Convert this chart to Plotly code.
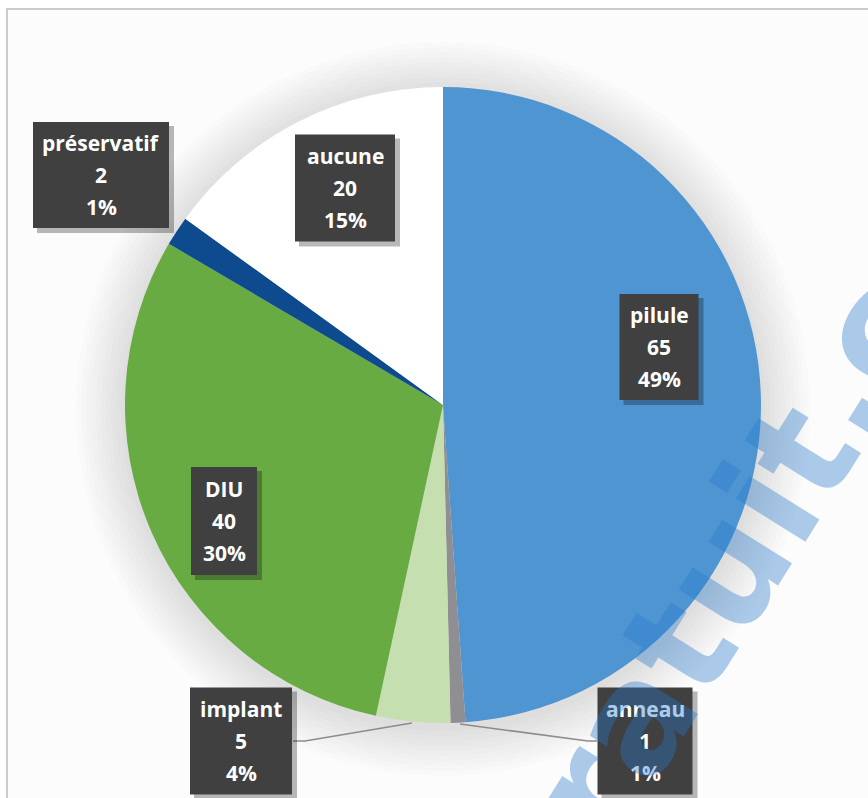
import plotly.graph_objects as go

W, H = 868, 798

# data
labels = ['pilule', 'anneau', 'implant', 'DIU', 'préservatif', 'aucune']
values = [65, 1, 5, 40, 2, 20]
pct_text = ['49%', '1%', '4%', '30%', '1%', '15%']
colors = ['#4f95d1', '#8f8f93', '#c5dfb1', '#69ab43', '#0e4b8e', '#ffffff']

# label boxes (pixel centre x, centre y, width, height)
box_pos = [(659, 347, 79, 106), (645, 741, 95, 107), (241, 741, 102, 107),
           (224, 521, 66, 108), (101, 175, 136, 106), (345, 188, 100, 107)]


def px(x):
    return x / W


def py(y):
    return 1 - y / H


fig = go.Figure()

cx, cy, r = 443, 405, 318

fig.add_trace(go.Pie(
        labels=labels,
        values=values,
        sort=False,
        direction='clockwise',
        rotation=0,
        marker=dict(colors=colors, line=dict(width=0)),
        textinfo='none',
        showlegend=False,
        hoverinfo='label+value+percent',
        domain=dict(x=[px(cx - r), px(cx + r)], y=[py(cy + r), py(cy - r)])
        ))

shapes = []
# frame
shapes.append(dict(type='rect', xref='paper', yref='paper', layer='below',
                   x0=px(7), x1=px(875), y0=py(805), y1=py(9),
                   line=dict(color='#cccccc', width=2), fillcolor='#fcfcfc'))
# soft shadow round the pie
for i in range(10):
    rr = r + 4 + i * 5
    shapes.append(dict(type='circle', xref='paper', yref='paper', layer='below',
                       x0=px(cx - rr), x1=px(cx + rr), y0=py(cy + rr + 4), y1=py(cy - rr + 4),
                       line=dict(width=0), fillcolor='rgba(0,0,0,0.012)'))

# leader lines
shapes.append(dict(type='path', xref='paper', yref='paper',
                   path=f'M {px(293)},{py(741)} L {px(305)},{py(741)} L {px(412)},{py(723)}',
                   line=dict(color='#8c8c8c', width=1.5)))
shapes.append(dict(type='path', xref='paper', yref='paper',
                   path=f'M {px(460)},{py(724)} L {px(588)},{py(741)} L {px(597)},{py(741)}',
                   line=dict(color='#8c8c8c', width=1.5)))

annotations = []
for lab, val, pct, (bx, by, bw, bh) in zip(labels, values, pct_text, box_pos):
    # drop shadow + box
    shapes.append(dict(type='rect', xref='paper', yref='paper',
                       x0=px(bx - bw / 2 + 4), x1=px(bx + bw / 2 + 5),
                       y0=py(by + bh / 2 + 5), y1=py(by - bh / 2 + 4),
                       line=dict(width=0), fillcolor='rgba(0,0,0,0.28)'))
    shapes.append(dict(type='rect', xref='paper', yref='paper',
                       x0=px(bx - bw / 2), x1=px(bx + bw / 2),
                       y0=py(by + bh / 2), y1=py(by - bh / 2),
                       line=dict(width=0), fillcolor='#404040'))
    for k, t in enumerate([lab, str(val), pct]):
        annotations.append(dict(
                x=px(bx), y=py(by + (k - 1) * 32), xref='paper', yref='paper',
                text=f'<b>{t}</b>', showarrow=False, xanchor='center', yanchor='middle',
                font=dict(family='Open Sans', size=21, color='white')))

# watermark
annotations.append(dict(
        x=px(772), y=py(497), xref='paper', yref='paper',
        text='<b>gratuit.com</b>', showarrow=False, textangle=-58,
        xanchor='center', yanchor='middle',
        font=dict(family='DejaVu Sans', size=150, color='rgba(40,120,205,0.38)')))

fig.update_layout(
        width=W,
        height=H,
        margin=dict(l=0, r=0, t=0, b=0),
        paper_bgcolor='white',
        plot_bgcolor='white',
        shapes=shapes,
        annotations=annotations,
        )

fig.write_html('out.html', config=dict(displayModeBar=False),
               post_script="document.body.style.margin='0px';")
